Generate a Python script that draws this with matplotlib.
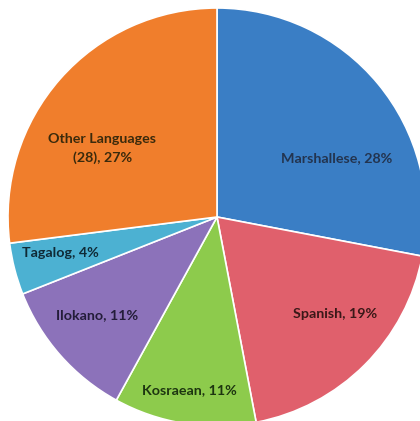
import numpy as np
import matplotlib.pyplot as plt

# language shares (%), clockwise from 12 o'clock
languages = ["Marshallese", "Spanish", "Kosraean", "Ilokano", "Tagalog", "Other Languages\n(28)"]
shares = [28, 19, 11, 11, 4, 27]

colors = ["#3a7ec5", "#e0606c", "#8dcb4c", "#8c72ba", "#4cb1d2", "#f07e2c"]
text_colors = ["#23344f", "#3a1818", "#1d3510", "#241d3a", "#0f2a36", "#3a2a0c"]
# label radius (fraction of pie radius) and angle shift (deg) per wedge
label_r = [0.64, 0.73, 0.84, 0.74, 0.77, 0.64]
label_shift = [-13.5, 5.5, 0.0, -2.0, -1.5, 10.5]

fig = plt.figure(figsize=(4.2, 4.21), dpi=100)
ax = fig.add_axes([0, 0, 1, 1])

wedges, _ = ax.pie(shares, colors=colors, startangle=90, counterclock=False,
                   radius=1.0, center=(0, 0),
                   wedgeprops=dict(edgecolor="white", linewidth=1.2))

for w, lang, s, r, sh, tc in zip(wedges, languages, shares, label_r, label_shift, text_colors):
    mid = np.deg2rad((w.theta1 + w.theta2) / 2 + sh)
    ax.text(r * np.cos(mid), r * np.sin(mid), f"{lang}, {s}%", ha="center", va="center",
            fontsize=10.3, fontweight="bold", family=["Lato", "DejaVu Sans"], color=tc,
            linespacing=1.55)

# figure is 420x421 px; pie centre ~ (217, 217) px, radius ~209 px
r_px = 209.0
ax.set_xlim(-217 / r_px, (420 - 217) / r_px)
ax.set_ylim(-(421 - 217) / r_px, 217 / r_px)
ax.set_aspect("auto")
ax.axis("off")

fig.savefig("out.png", dpi=100, facecolor="white")
